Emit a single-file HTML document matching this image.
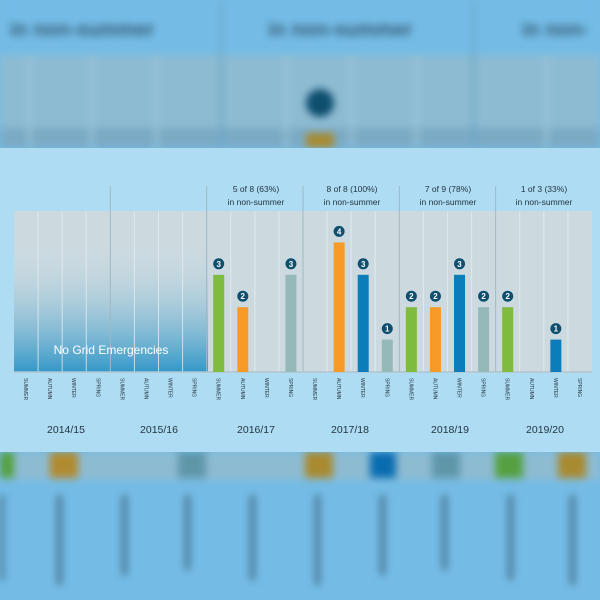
<!DOCTYPE html>
<html><head><meta charset="utf-8"><style>
body{margin:0;width:600px;height:600px;overflow:hidden;background:#74bce6;font-family:"Liberation Sans",sans-serif}
.bg{position:absolute;left:0;top:0;width:600px;height:600px;filter:blur(4px)}
</style></head><body>
<svg class="bg" width="600" height="600">
<rect x="0" y="0" width="600" height="55" fill="#74bce6"/>
<rect x="0" y="55" width="600" height="93" fill="#8dbbd2"/>
<rect x="0" y="128" width="600" height="20" fill="#6f9fbd" opacity="0.6"/>
<g fill="#9ec8dc"><rect x="28" y="55" width="3" height="93"/><rect x="90" y="55" width="3" height="93"/><rect x="155" y="55" width="3" height="93"/><rect x="285" y="55" width="3" height="93"/><rect x="350" y="55" width="3" height="93"/><rect x="415" y="55" width="3" height="93"/><rect x="545" y="55" width="3" height="93"/></g>
<g fill="#6aa8c8"><rect x="220" y="0" width="3" height="148"/><rect x="472" y="0" width="3" height="148"/></g>
<g font-size="20" font-weight="bold" fill="#2a4a60" opacity="0.85"><text x="10" y="36">in non-summer</text><text x="268" y="36">in non-summer</text><text x="522" y="36">in non-</text></g>
<circle cx="320" cy="103" r="14" fill="#0e4e6e"/>
<rect x="306" y="133" width="28" height="15" fill="#a88a30"/>
<rect x="0" y="452" width="600" height="28" fill="#8dbbd2"/>
<g><rect x="0" y="452" width="14" height="26" fill="#55a040"/><rect x="50" y="452" width="28" height="26" fill="#b08a30"/><rect x="178" y="452" width="28" height="26" fill="#5f96a8"/><rect x="305" y="452" width="28" height="26" fill="#a88a30"/><rect x="370" y="452" width="26" height="26" fill="#0a6cb0"/><rect x="432" y="452" width="28" height="26" fill="#5f96a8"/><rect x="495" y="452" width="28" height="26" fill="#55a040"/><rect x="558" y="452" width="28" height="26" fill="#a88a30"/></g>
<g fill="#3a5a70" opacity="0.75"><rect x="0" y="495" width="4" height="85"/><rect x="57" y="495" width="5" height="90"/><rect x="122" y="495" width="5" height="80"/><rect x="185" y="495" width="5" height="75"/><rect x="250" y="495" width="5" height="85"/><rect x="315" y="495" width="5" height="90"/><rect x="380" y="495" width="5" height="80"/><rect x="442" y="495" width="5" height="75"/><rect x="508" y="495" width="5" height="85"/><rect x="570" y="495" width="5" height="90"/></g>
</svg>
<svg style="position:absolute;left:0;top:0" width="600" height="600">
<defs><linearGradient id="g" x1="0" y1="0" x2="0" y2="1"><stop offset="0.2" stop-color="#ccdae0" stop-opacity="0"/><stop offset="1" stop-color="#3398c8"/></linearGradient></defs>
<rect x="0" y="148" width="600" height="304" fill="#aedcf2"/>
<rect x="14" y="211" width="578" height="161" fill="#ccdae0"/>
<rect x="14" y="211" width="194" height="161" fill="url(#g)"/>
<g id="lines"></g>
<line x1="14" y1="372" x2="592" y2="372" stroke="#b0c4ce" stroke-width="1.5"/>
<text x="111" y="354" text-anchor="middle" font-size="12" fill="#fff">No Grid Emergencies</text>
<g id="bars"></g>
<g font-size="8.5" fill="#1f3342" text-anchor="middle">
<text x="256" y="192">5 of 8 (63%)</text><text x="256" y="205">in non-summer</text>
<text x="352" y="192">8 of 8 (100%)</text><text x="352" y="205">in non-summer</text>
<text x="448" y="192">7 of 9 (78%)</text><text x="448" y="205">in non-summer</text>
<text x="544" y="192">1 of 3 (33%)</text><text x="544" y="205">in non-summer</text>
</g>
<g id="lab" font-size="5" fill="#2a3a48"></g>
<g font-size="10.5" fill="#1f3342" text-anchor="middle">
<text x="66" y="433">2014/15</text><text x="159" y="433">2015/16</text><text x="256" y="433">2016/17</text>
<text x="350" y="433">2017/18</text><text x="450" y="433">2018/19</text><text x="545" y="433">2019/20</text>
</g>
</svg>
<script>
var ns="http://www.w3.org/2000/svg";
function el(p,t,a,tx){var e=document.createElementNS(ns,t);for(var k in a)e.setAttribute(k,a[k]);if(tx)e.textContent=tx;document.getElementById(p).appendChild(e);}
var W=96.33,S=W/4,seasons=["SUMMER","AUTUMN","WINTER","SPRING"];
var data=[[0,0,0,0],[0,0,0,0],[3,2,0,3],[0,4,3,1],[2,2,3,2],[2,0,1,0]];
var cols=["#7fbb3f","#f79a28","#0b7dbb","#95b8b8"];
for(var i=0;i<6;i++){var x0=14+i*W;
 if(i>0)el("lines","line",{x1:x0,y1:186,x2:x0,y2:372,stroke:"#9fb8c6","stroke-width":1});
 for(var j=0;j<4;j++){var cx=x0+S*j+S/2;
  if(j>0)el("lines","line",{x1:x0+S*j,y1:211,x2:x0+S*j,y2:372,stroke:"#e4edf0","stroke-width":1,opacity:0.8});
  el("lab","text",{transform:"translate("+(cx-2)+",378) rotate(90)"},seasons[j]);
  var v=data[i][j];if(v){var h=v*32.4;
   el("bars","rect",{x:cx-5.5,y:372-h,width:11,height:h,fill:cols[j]});
   el("bars","circle",{cx:cx,cy:372-h-11,r:5.5,fill:"#0e4e6e"});
   el("bars","text",{x:cx,y:372-h-8,"text-anchor":"middle","font-size":"8","font-weight":"bold",fill:"#fff"},v);}
 }}
</script>
</body></html>
